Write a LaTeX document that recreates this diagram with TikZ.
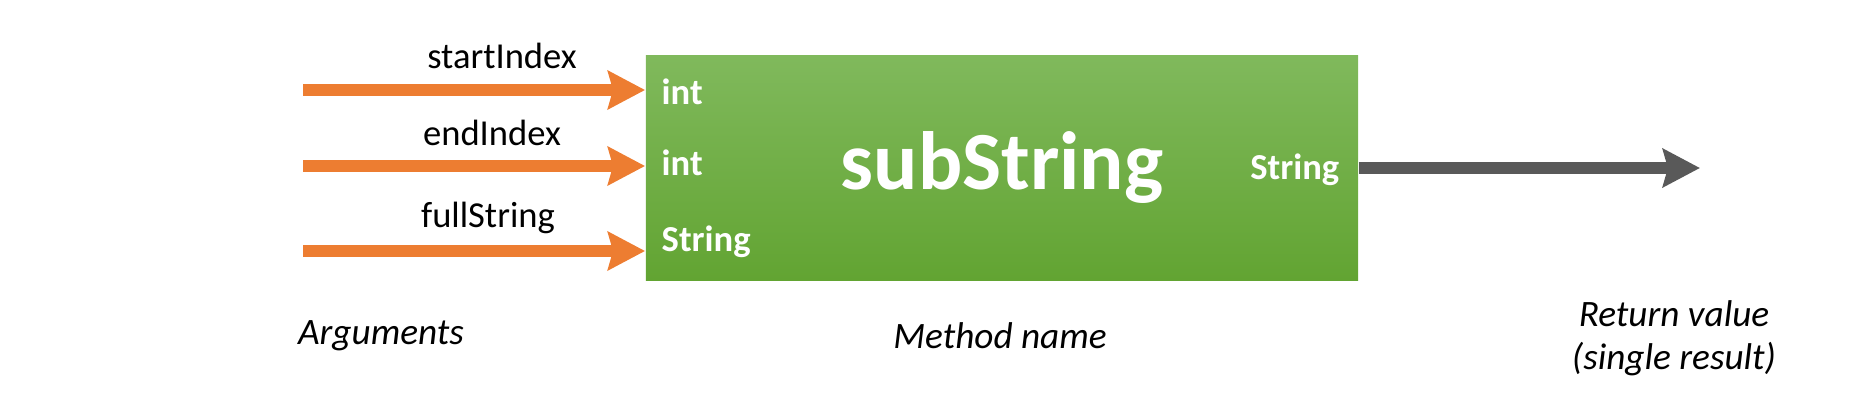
\documentclass[tikz,border=0pt]{standalone}
\usepackage{fontspec}
\setmainfont{Carlito}
\usetikzlibrary{arrows.meta,positioning,calc}
\definecolor{argorange}{HTML}{ED7D31}
\definecolor{retgray}{HTML}{595959}
\definecolor{boxtop}{RGB}{128,185,92}
\definecolor{boxbot}{RGB}{98,164,50}

\begin{document}
\begin{tikzpicture}[x=0.01cm,y=-0.01cm,
  argarrow/.style={line width=3.55pt,argorange,-{Stealth[length=0.37cm,width=0.38cm,inset=0.05cm]}},
  retarrow/.style={line width=3.4pt,retgray,-{Stealth[length=0.37cm,width=0.38cm,inset=0.05cm]}},
  txt/.style={font=\fontsize{10.4}{11.7}\selectfont,inner sep=0pt},
  captxt/.style={txt,font=\fontsize{10.6}{12.3}\selectfont\itshape,align=center},
  typetxt/.style={txt,font=\fontsize{10.4}{11.7}\selectfont\bfseries,text=white},
  methodbox/.style={minimum width=7.12cm,minimum height=2.24cm,inner sep=0pt,
    top color=boxtop,bottom color=boxbot,text=white,
    font=\fontsize{23.5}{26}\selectfont\bfseries}]
\useasboundingbox (0,0) rectangle (1868,409);

\node[methodbox] (method) at (1002,168) {subString};

% arguments
\coordinate (a1) at (303,90);
\coordinate (a2) at (303,166);
\coordinate (a3) at (303,251);
\draw[argarrow] (a1) -- (a1 -| method.west);
\draw[argarrow] (a2) -- (a2 -| method.west);
\draw[argarrow] (a3) -- (a3 -| method.west);
\node[txt] (n1) at (502,56) {startIndex};
\node[txt] (n2) at (492,133) {endIndex};
\node[txt] (n3) at (488,218) {fullString};

\node[typetxt,anchor=west] (t1) at (661,92) {int};
\node[typetxt,anchor=west] (t2) at (661,163) {int};
\node[typetxt,anchor=west] (t3) at (661,242) {String};
\node[typetxt,anchor=east] (tr) at (1340,170) {String};

% return value
\coordinate (r) at (1700,168);
\draw[retarrow] (method.east |- r) -- (r);

\node[captxt] (c1) at (381,336) {Arguments};
\node[captxt] (c2) at (1000,336) {Method name};
\node[captxt] (c3) at (1674,338) {Return value\\(single result)};
\end{tikzpicture}
\end{document}
